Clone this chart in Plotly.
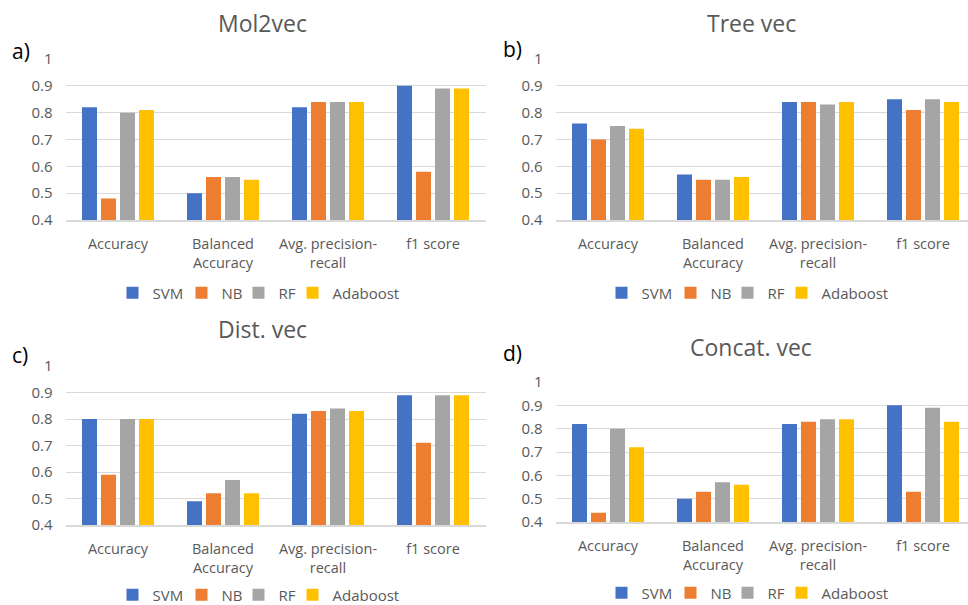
import plotly.graph_objects as go

# Metrics shown on each x axis
categories = ["Accuracy", "Balanced<br>Accuracy", "Avg. precision-<br>recall", "f1 score"]
models = ["SVM", "NB", "RF", "Adaboost"]
colors = ["#4472C4", "#ED7D31", "#A5A5A5", "#FFC000"]

# Scores per embedding, one list per model (order follows `categories`)
mol2vec_svm = [0.82, 0.50, 0.82, 0.90]
mol2vec_nb = [0.48, 0.56, 0.84, 0.58]
mol2vec_rf = [0.80, 0.56, 0.84, 0.89]
mol2vec_ada = [0.81, 0.55, 0.84, 0.89]

treevec_svm = [0.76, 0.57, 0.84, 0.85]
treevec_nb = [0.70, 0.55, 0.84, 0.81]
treevec_rf = [0.75, 0.55, 0.83, 0.85]
treevec_ada = [0.74, 0.56, 0.84, 0.84]

distvec_svm = [0.80, 0.49, 0.82, 0.89]
distvec_nb = [0.59, 0.52, 0.83, 0.71]
distvec_rf = [0.80, 0.57, 0.84, 0.89]
distvec_ada = [0.80, 0.52, 0.83, 0.89]

concat_svm = [0.82, 0.50, 0.82, 0.90]
concat_nb = [0.44, 0.53, 0.83, 0.53]
concat_rf = [0.80, 0.57, 0.84, 0.89]
concat_ada = [0.72, 0.56, 0.84, 0.83]

y_ticks = [0.4, 0.5, 0.6, 0.7, 0.8, 0.9, 1.0]
y_ticktext = ["0.4", "0.5", "0.6", "0.7", "0.8", "0.9", "1"]

W, H = 968, 605
FONT = "Open Sans"
TXT = "#595959"
GRID = "#D9D9D9"

# tighter legend entries (px reserved for each label)
legend_widths = [24, 12, 9, 68]

panels = [
    # title, tag, series, x-domain px, y-domain px (top, bottom), x-range end,
    # title pos, tag pos, legend centre
    ("Mol2vec", "a)", [mol2vec_svm, mol2vec_nb, mol2vec_rf, mol2vec_ada],
     (65.5, 485.5), (59, 220), 3.5, (262, 23), (10, 51), (259, 293)),
    ("Tree vec", "b)", [treevec_svm, treevec_nb, treevec_rf, treevec_ada],
     (555.5, 968), (59, 220), 3.5 - 7.5 / 105, (751, 23), (501, 49), (748, 293)),
    ("Dist. vec", "c)", [distvec_svm, distvec_nb, distvec_rf, distvec_ada],
     (65.5, 485.5), (366, 525), 3.5, (262, 329), (10, 355), (259, 595)),
    ("Concat. vec", "d)", [concat_svm, concat_nb, concat_rf, concat_ada],
     (555.5, 968), (382, 522), 3.5 - 7.5 / 105, (751, 347), (501, 353), (748, 593)),
]

fig = go.Figure()
layout = dict(
    width=W, height=H,
    margin=dict(l=0, r=0, t=0, b=0, autoexpand=False),
    paper_bgcolor="white", plot_bgcolor="white",
    barmode="group", bargap=0.276, bargroupgap=0.21,
    font=dict(family=FONT, color=TXT, size=15),
    annotations=[],
)

for i, (title, tag, series, xd, yd, xend, tpos, lpos, legpos) in enumerate(panels):
    n = "" if i == 0 else str(i + 1)
    leg = "legend" + n
    for name, color, vals, lw in zip(models, colors, series, legend_widths):
        fig.add_trace(go.Bar(
            x=categories, y=vals, name=name,
            marker=dict(color=color, line=dict(width=0)),
            xaxis="x" + n, yaxis="y" + n, legend=leg, legendwidth=lw,
        ))
    layout["xaxis" + n] = dict(
        domain=[xd[0] / W, xd[1] / W], anchor="y" + n,
        range=[-0.5, xend], showgrid=False, showline=True,
        linecolor=GRID, linewidth=2, ticks="", ticklabelstandoff=10,
        tickfont=dict(size=14.5, color=TXT), fixedrange=True,
    )
    layout["yaxis" + n] = dict(
        domain=[1 - yd[1] / H, 1 - yd[0] / H], anchor="x" + n,
        range=[0.4, 1.0], tickvals=y_ticks, ticktext=y_ticktext,
        showgrid=True, gridcolor=GRID, gridwidth=1, zeroline=False,
        showline=False, ticks="", ticklabelstandoff=12,
        tickfont=dict(size=15, color=TXT), fixedrange=True,
    )
    layout[leg] = dict(
        orientation="h", x=legpos[0] / W, y=1 - legpos[1] / H,
        xanchor="center", yanchor="middle",
        font=dict(size=15, color=TXT), bgcolor="rgba(0,0,0,0)",
        itemclick=False, itemdoubleclick=False,
    )
    layout["annotations"].append(dict(
        text=title, x=tpos[0] / W, y=1 - tpos[1] / H, xref="paper", yref="paper",
        xanchor="center", yanchor="middle", showarrow=False,
        font=dict(size=23, color=TXT, family=FONT),
    ))
    layout["annotations"].append(dict(
        text=tag, x=lpos[0] / W, y=1 - lpos[1] / H, xref="paper", yref="paper",
        xanchor="left", yanchor="middle", showarrow=False,
        font=dict(size=21, color="black", family=FONT),
    ))

fig.update_layout(**layout)
fig.write_html("out.html", config=dict(displayModeBar=False))
